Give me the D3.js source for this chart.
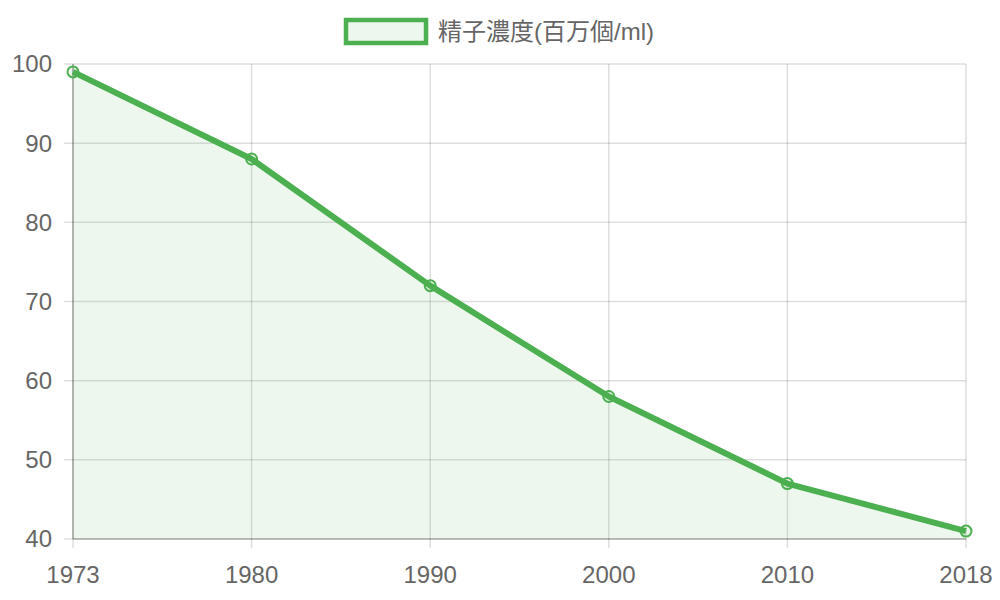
<!DOCTYPE html>
<html>
<head>
<meta charset="utf-8">
<script src="https://cdn.jsdelivr.net/npm/d3@7"></script>
<style>
  body { margin: 0; background: #fff; }
  text { font-family: "Liberation Sans", Arial, "Noto Sans CJK JP", sans-serif; fill: #666; }
</style>
</head>
<body>
<div id="chart"></div>
<script>
// Data
const years = ["1973", "1980", "1990", "2000", "2010", "2018"];
const concentration = [99, 88, 72, 58, 47, 41];
const yTicks = [40, 50, 60, 70, 80, 90, 100];
const seriesLabel = "精子濃度(百万個/ml)";

const W = 1000, H = 600;
const margin = { top: 64, right: 34, bottom: 61, left: 73 };
const width = W - margin.left - margin.right;
const height = H - margin.top - margin.bottom;
const green = "#4CAF50";

const svg = d3.select("#chart").append("svg")
    .attr("width", W)
    .attr("height", H);

const g = svg.append("g")
    .attr("transform", `translate(${margin.left}, ${margin.top})`);

const x = d3.scalePoint()
    .domain(years)
    .range([0, width]);

const y = d3.scaleLinear()
    .domain([40, 100])
    .range([height, 0]);

// Horizontal grid lines (extend left as tick marks)
g.append("g")
    .selectAll("line")
    .data(yTicks)
    .join("line")
    .attr("x1", -9)
    .attr("x2", width)
    .attr("y1", d => y(d))
    .attr("y2", d => y(d))
    .attr("stroke", "rgba(0,0,0,0.13)")
    .attr("stroke-width", 1.5);

// Vertical grid lines (extend down as tick marks)
g.append("g")
    .selectAll("line")
    .data(years)
    .join("line")
    .attr("x1", d => x(d))
    .attr("x2", d => x(d))
    .attr("y1", 0)
    .attr("y2", height + 9)
    .attr("stroke", "rgba(0,0,0,0.13)")
    .attr("stroke-width", 1.5);

// Axis lines
g.append("line")
    .attr("x1", 0).attr("x2", 0)
    .attr("y1", 0).attr("y2", height)
    .attr("stroke", "rgba(0,0,0,0.3)")
    .attr("stroke-width", 1.5);
g.append("line")
    .attr("x1", 0).attr("x2", width)
    .attr("y1", height).attr("y2", height)
    .attr("stroke", "rgba(0,0,0,0.25)")
    .attr("stroke-width", 1.5);

// Y tick labels
g.append("g")
    .selectAll("text")
    .data(yTicks)
    .join("text")
    .attr("x", -21)
    .attr("y", d => y(d))
    .attr("dy", "0.35em")
    .attr("text-anchor", "end")
    .style("font-size", "24px")
    .text(d => d);

// X tick labels
g.append("g")
    .selectAll("text")
    .data(years)
    .join("text")
    .attr("x", d => x(d))
    .attr("y", height + 44)
    .attr("text-anchor", "middle")
    .style("font-size", "24px")
    .text(d => d);

const points = years.map((yr, i) => ({ year: yr, value: concentration[i] }));

// Filled area
const area = d3.area()
    .x(d => x(d.year))
    .y0(height)
    .y1(d => y(d.value));

g.append("path")
    .datum(points)
    .attr("d", area)
    .attr("fill", "rgba(76,175,80,0.1)");

// Line
const line = d3.line()
    .x(d => x(d.year))
    .y(d => y(d.value));

g.append("path")
    .datum(points)
    .attr("d", line)
    .attr("fill", "none")
    .attr("stroke", green)
    .attr("stroke-width", 6)
    .attr("stroke-linejoin", "round");

// Points
g.append("g")
    .selectAll("circle")
    .data(points)
    .join("circle")
    .attr("cx", d => x(d.year))
    .attr("cy", d => y(d.value))
    .attr("r", 5.5)
    .attr("fill", "rgba(76,175,80,0.1)")
    .attr("stroke", green)
    .attr("stroke-width", 2);

// Legend
const legend = svg.append("g");
legend.append("rect")
    .attr("x", 346)
    .attr("y", 20)
    .attr("width", 80)
    .attr("height", 23)
    .attr("fill", "rgba(76,175,80,0.1)")
    .attr("stroke", green)
    .attr("stroke-width", 4.5);
legend.append("text")
    .attr("x", 438)
    .attr("y", 32)
    .attr("dy", "0.35em")
    .style("font-size", "24px")
    .text(seriesLabel);
</script>
</body>
</html>
